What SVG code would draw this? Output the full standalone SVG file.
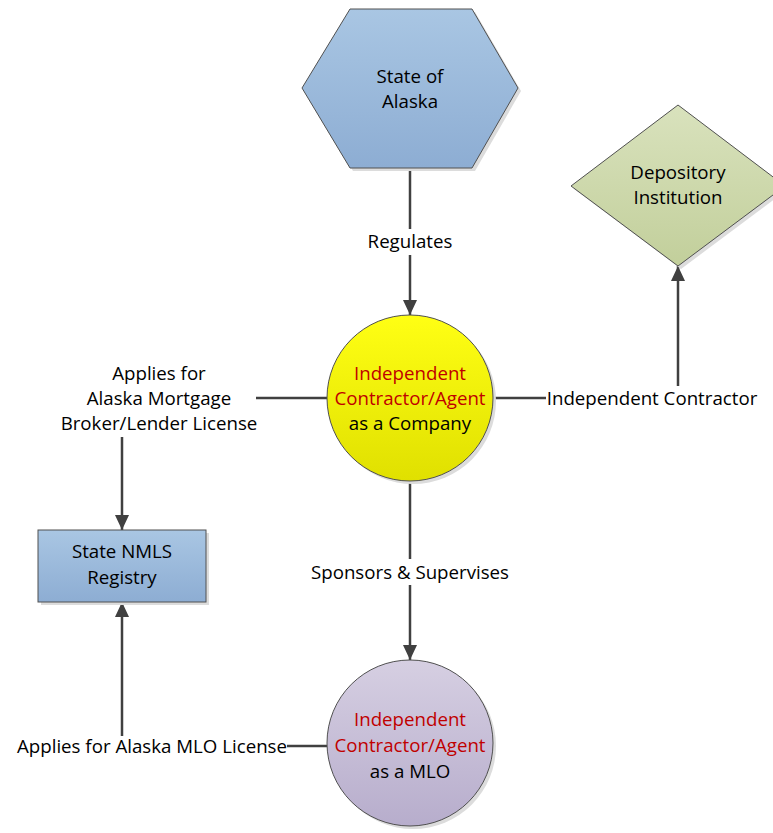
<svg xmlns="http://www.w3.org/2000/svg" width="773" height="833" viewBox="0 0 773 833">
<defs>
<linearGradient id="gBlue" x1="0" y1="0" x2="0" y2="1"><stop offset="0" stop-color="#a9c6e3"/><stop offset="1" stop-color="#8dadd3"/></linearGradient>
<linearGradient id="gYellow" x1="0" y1="0" x2="0" y2="1"><stop offset="0" stop-color="#ffff14"/><stop offset="1" stop-color="#e0e000"/></linearGradient>
<linearGradient id="gPurple" x1="0" y1="0" x2="0" y2="1"><stop offset="0" stop-color="#d6cfe2"/><stop offset="1" stop-color="#b7adcc"/></linearGradient>
<linearGradient id="gGreen" x1="0" y1="0" x2="0" y2="1"><stop offset="0" stop-color="#d9e2bd"/><stop offset="1" stop-color="#c2cf9b"/></linearGradient>
<marker id="arr" markerUnits="userSpaceOnUse" markerWidth="16" markerHeight="14" refX="15" refY="7" orient="auto"><path d="M0,0 L15,7 L0,14 Z" fill="#404040"/></marker>
</defs>
<style>
.shape{stroke:#505050;stroke-width:1}
.shadow{fill:#dcdcdc;stroke:none}
.conn{fill:none;stroke:#404040;stroke-width:2.5}
text{font-family:"Open Sans","Liberation Sans",sans-serif;font-size:18.7px;text-anchor:middle;fill:#000}
.red{fill:#c00000}
.bg{fill:#fff}
</style>
<g id="connectors">
<path class="conn" d="M410,168 V315" marker-end="url(#arr)"/>
<path class="conn" d="M410,482 V660" marker-end="url(#arr)"/>
<path class="conn" d="M493,398 H678 V266" marker-end="url(#arr)"/>
<path class="conn" d="M327,398 H122 V530" marker-end="url(#arr)"/>
<path class="conn" d="M327,746 H122 V602" marker-end="url(#arr)"/>
<rect class="bg" x="362" y="229" width="96" height="26"/>
<text x="410" y="248">Regulates</text>
<rect class="bg" x="308" y="559" width="204" height="26"/>
<text x="410" y="579">Sponsors &amp; Supervises</text>
<rect class="bg" x="546" y="386" width="212" height="26"/>
<text x="652" y="405">Independent Contractor</text>
<rect class="bg" x="58" y="360" width="198" height="77"/>
<text x="159" y="380">Applies for</text>
<text x="159" y="405">Alaska Mortgage</text>
<text x="159" y="430">Broker/Lender License</text>
<rect class="bg" x="16" y="736" width="271" height="22"/>
<text x="152" y="753">Applies for Alaska MLO License</text>
</g>
<g id="state-of-alaska">
<polygon class="shadow" points="353,12 475,12 521,91 475,171 353,171 305,91"/>
<polygon class="shape" fill="url(#gBlue)" points="350,9 472,9 518,88 472,168 350,168 302,88"/>
<text x="410" y="83">State of</text>
<text x="410" y="108">Alaska</text>
</g>
<g id="depository-institution">
<polygon class="shadow" points="681,108 788,189 681,269 574,189"/>
<polygon class="shape" fill="url(#gGreen)" points="678,105 785,186 678,266 571,186"/>
<text x="678" y="179">Depository</text>
<text x="678" y="204">Institution</text>
</g>
<g id="ic-company">
<circle class="shadow" cx="413" cy="401" r="83"/>
<circle class="shape" fill="url(#gYellow)" cx="410" cy="398" r="83"/>
<text class="red" x="410" y="380">Independent</text>
<text class="red" x="410" y="405">Contractor/Agent</text>
<text x="410" y="430">as a Company</text>
</g>
<g id="state-nmls-registry">
<rect class="shadow" x="41" y="533" width="168" height="72"/>
<rect class="shape" fill="url(#gBlue)" x="38" y="530" width="168" height="72"/>
<text x="122" y="558">State NMLS</text>
<text x="122" y="584">Registry</text>
</g>
<g id="ic-mlo">
<circle class="shadow" cx="413" cy="746" r="83"/>
<circle class="shape" fill="url(#gPurple)" cx="410" cy="743" r="83"/>
<text class="red" x="410" y="726">Independent</text>
<text class="red" x="410" y="752">Contractor/Agent</text>
<text x="410" y="778">as a MLO</text>
</g>
</svg>
